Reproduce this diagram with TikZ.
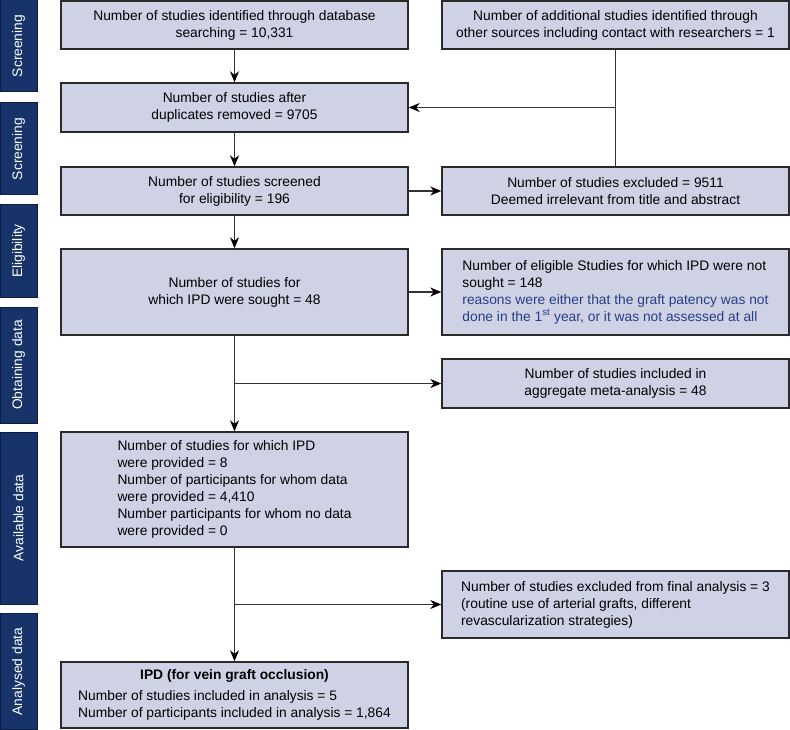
\documentclass[tikz,border=0pt]{standalone}
\usepackage{fontspec}
\setmainfont{Liberation Sans}
\usetikzlibrary{arrows.meta}
\definecolor{boxfill}{HTML}{CFD2E5}
\definecolor{navy}{HTML}{17336A}
\definecolor{navyedge}{HTML}{0E1E40}
\definecolor{edgecol}{HTML}{2A2A2A}
\definecolor{bluetext}{HTML}{233F86}
\definecolor{linecol}{HTML}{333333}
\tikzset{
  box/.style={draw=edgecol, line width=1.4pt, fill=boxfill, inner sep=0pt,
    font=\fontsize{13.8}{17}\selectfont, align=center, text=black},
  lbox/.style={box, align=left},
  side/.style={fill=navy, draw=navyedge, line width=1pt, text=white, rotate=90,
    inner sep=0pt, minimum height=37pt, font=\fontsize{13.8}{17}\selectfont},
  conn/.style={draw=linecol, line width=1.3pt},
  arr/.style={conn, -{Stealth[length=11pt,width=9pt,inset=3.5pt,color=black]}}
}
\begin{document}
\begin{tikzpicture}[x=1pt,y=-1pt]
\useasboundingbox (0,0) rectangle (790,730);
% side labels
\node[side, minimum width=92pt] (s1) at (18.5,46) {Screening};
\node[side, minimum width=92pt] (s2) at (18.5,149) {Screening};
\node[side, minimum width=92pt] (s3) at (18.5,251) {Eligibility};
\node[side, minimum width=116pt] (s4) at (18.5,365) {Obtaining data};
\node[side, minimum width=172pt] (s5) at (18.5,518) {Available data};
\node[side, minimum width=116pt] (s6) at (18.5,671.5) {Analysed data};
% left column
\node[box, minimum width=347pt, minimum height=48pt] (b1) at (234.5,25)
  {Number of studies identified through database\\searching = 10,331};
\node[box, minimum width=347pt, minimum height=49pt] (b2) at (234.5,107.5)
  {Number of studies after\\duplicates removed = 9705};
\node[box, minimum width=347pt, minimum height=48pt] (b3) at (234.5,191)
  {Number of studies screened\\for eligibility = 196};
\node[box, minimum width=347pt, minimum height=86pt] (b4) at (234.5,292)
  {Number of studies for\\which IPD were sought = 48};
\node[lbox, minimum width=347pt, minimum height=115pt] (b5) at (234.5,489.5)
  {Number of studies for which IPD\\were provided = 8\\Number of participants for whom data\\were provided = 4,410\\Number participants for whom no data\\were provided = 0};
\node[box, minimum width=347pt, minimum height=66pt] (b6) at (234.5,695)
  {\begin{tabular}{@{}l@{}}\multicolumn{1}{@{}c@{}}{\bfseries IPD (for vein graft occlusion)}\\[4pt]
  Number of studies included in analysis = 5\\
  Number of participants included in analysis = 1,864\end{tabular}};
% right column
\node[box, minimum width=347pt, minimum height=48pt] (r1) at (615.5,25)
  {Number of additional studies identified through\\other sources including contact with researchers = 1};
\node[box, minimum width=347pt, minimum height=48pt] (r2) at (615.5,191)
  {Number of studies excluded = 9511\\Deemed irrelevant from title and abstract};
\node[lbox, minimum width=347pt, minimum height=86pt] (r3) at (615.5,292)
  {Number of eligible Studies for which IPD were not\\sought = 148\\
  \textcolor{bluetext}{reasons were either that the graft patency was not}\\
  \textcolor{bluetext}{done in the 1\textsuperscript{st} year, or it was not assessed at all}};
\node[box, minimum width=347pt, minimum height=49pt] (r4) at (615.5,383.5)
  {Number of studies included in\\aggregate meta-analysis = 48};
\node[lbox, minimum width=347pt, minimum height=67pt] (r5) at (615.5,604.5)
  {Number of studies excluded from final analysis = 3\\(routine use of arterial grafts, different\\revascularization strategies)};
% connectors
\draw[arr] (b1.south) -- (b2.north);
\draw[arr] (b2.south) -- (b3.north);
\draw[conn] (r1.south) -- (r2.north);
\coordinate (j1) at (r1.south |- b2.east);
\draw[arr] (j1) -- (b2.east);
\draw[arr] (b3.east) -- (r2.west);
\draw[arr] (b3.south) -- (b4.north);
\draw[arr] (b4.east) -- (r3.west);
\draw[arr] (b4.south) -- (b5.north);
\coordinate (j2) at (b4.south |- r4.west);
\draw[arr] (j2) -- (r4.west);
\draw[arr] (b5.south) -- (b6.north);
\coordinate (j3) at (b5.south |- r5.west);
\draw[arr] (j3) -- (r5.west);
\end{tikzpicture}
\end{document}
